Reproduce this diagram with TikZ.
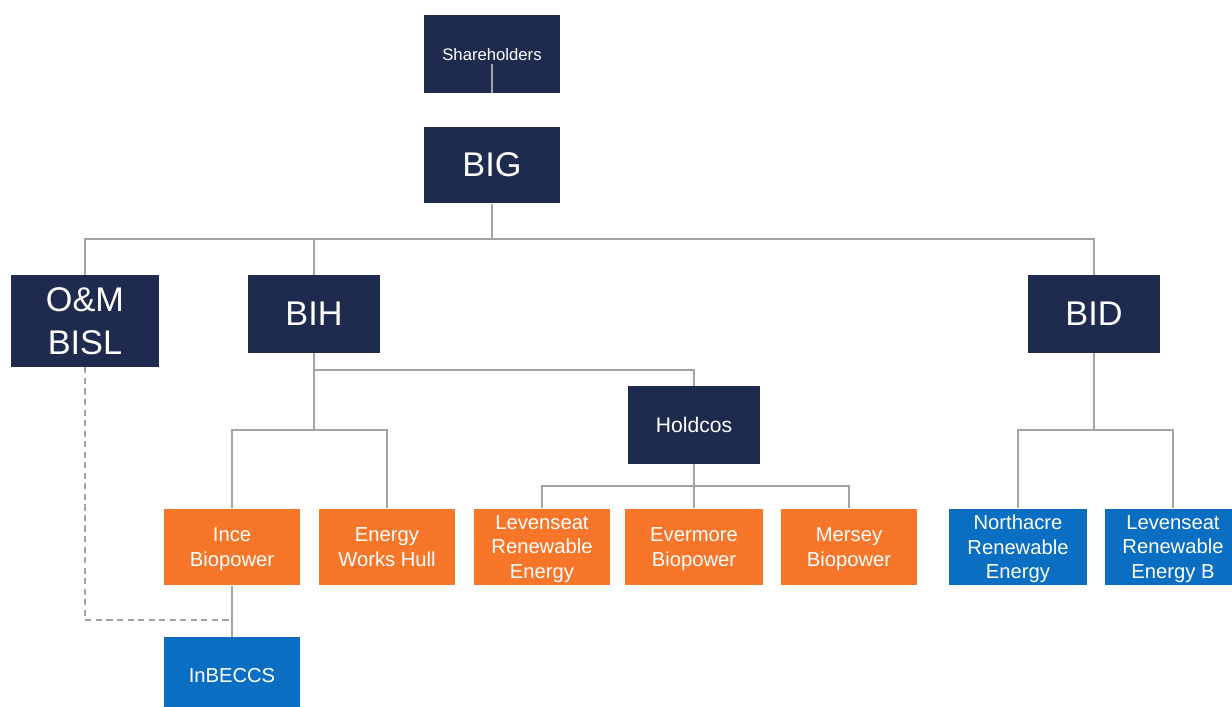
\documentclass[tikz,border=0pt]{standalone}
\usepackage{fontspec}
\setmainfont{Liberation Sans}
\usetikzlibrary{positioning}

\definecolor{navy}{HTML}{1F2A4F}
\definecolor{plantorange}{HTML}{F8762A}
\definecolor{ccsblue}{HTML}{0A6FC2}
\definecolor{linegray}{HTML}{A3A3A3}

\begin{document}
\begin{tikzpicture}[
		x=0.02cm, y=-0.02cm,
		box/.style={minimum width=2.74cm, minimum height=1.54cm, inner sep=2pt, text depth=0pt, align=center, text=white, font=\fontsize{11.5}{13.9}\selectfont},
		head/.style={box, fill=navy},
		big/.style={head, font=\fontsize{19.5}{24}\selectfont},
		plant/.style={box, fill=plantorange},
		ccs/.style={box, fill=ccsblue},
		link/.style={draw=linegray, line width=0.9pt},
	]
		\useasboundingbox (0,0) rectangle (1232,707);

		% group level
		\node[head, minimum height=1.56cm, font=\fontsize{9.5}{11}\selectfont] (sh) at (492,54) {Shareholders};
		\node[big] (big) at (492,165) {BIG};
		\node[big, minimum width=2.96cm, minimum height=1.84cm] (bisl) at (85,321) {O\&M\\BISL};
		\node[big, minimum width=2.64cm, minimum height=1.56cm] (bih) at (314,314) {BIH};
		\node[big, minimum width=2.64cm, minimum height=1.56cm] (bid) at (1094,314) {BID};
		\node[head, minimum width=2.64cm, minimum height=1.56cm, font=\fontsize{12}{14}\selectfont] (hold) at (694,425) {Holdcos};

		% plants
		\node[plant] (ince) at (232,547) {Ince\\Biopower};
		\node[plant, minimum width=2.72cm] (ewh) at (387,547) {Energy\\Works Hull};
		\node[plant, minimum width=2.72cm] (lev) at (542,547) {Levenseat\\Renewable\\Energy};
		\node[plant, minimum width=2.76cm] (evm) at (694,547) {Evermore\\Biopower};
		\node[plant, minimum width=2.72cm] (mer) at (849,547) {Mersey\\Biopower};
		\node[ccs, minimum width=2.76cm] (nor) at (1018,547) {Northacre\\Renewable\\Energy};
		\node[ccs, minimum width=2.72cm] (levb) at (1173,547) {Levenseat\\Renewable\\Energy B};
		\node[ccs, below=1.02cm of ince] (inb) {InBECCS};

		% bus points
		\coordinate (topbus) at (492,239);
		\coordinate (holdtap) at (314,370);
		\coordinate (bihbus) at (314,430);
		\coordinate (holdbus) at (694,486);
		\coordinate (bidbus) at (1094,430);
		\coordinate (omend) at (232,620);

		\draw[link] (sh.south) -- ++(0,-29);
		\draw[link] (big.south) -- (topbus) -| (bisl.north);
		\draw[link] (topbus) -| (bih.north);
		\draw[link] (topbus) -| (bid.north);

		\draw[link] (bih.south) -- (bihbus);
		\draw[link] (holdtap) -| (hold.north);
		\draw[link] (bihbus) -| (ince.north);
		\draw[link] (bihbus) -| (ewh.north);

		\draw[link] (hold.south) -- (holdbus) -| (lev.north);
		\draw[link] (holdbus) -- (evm.north);
		\draw[link] (holdbus) -| (mer.north);

		\draw[link] (bid.south) -- (bidbus) -| (nor.north);
		\draw[link] (bidbus) -| (levb.north);

		\draw[link] (ince.south) -- (inb.north);
		\draw[link, dash pattern=on 3.5pt off 2.5pt] (bisl.south) |- (omend);
	\end{tikzpicture}
\end{document}
